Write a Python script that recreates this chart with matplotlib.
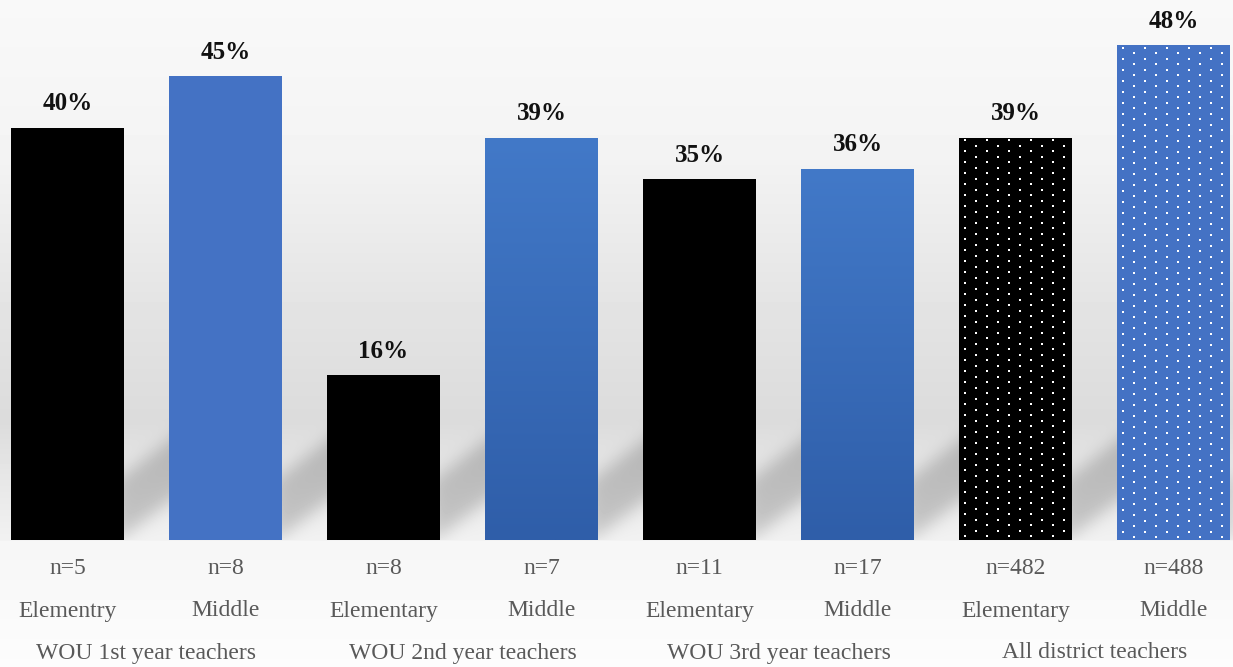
import numpy as np
import matplotlib
matplotlib.use("Agg")
import matplotlib.pyplot as plt
from matplotlib.colors import LinearSegmentedColormap
import matplotlib.transforms as mtransforms

# data
values = [40, 45, 16, 39, 35, 36, 39, 48]
sample_sizes = ["n=5", "n=8", "n=8", "n=7", "n=11", "n=17", "n=482", "n=488"]
levels = ["Elementry", "Middle", "Elementary", "Middle",
          "Elementary", "Middle", "Elementary", "Middle"]
groups = ["WOU 1st year teachers", "WOU 2nd year teachers",
          "WOU 3rd year teachers", "All district teachers"]

W, H, DPI = 1233, 667, 100
BLUE = "#4472C4"
TEXT_GRAY = "#595959"
FONT = ["Liberation Serif", "DejaVu Serif"]

# pixel geometry of the plot area
px_step = 158.0
px_first = 67.5
px_base = 540.0
px_per_pct = 10.31

x = np.arange(len(values))
xlim = (-px_first / px_step, (W - px_first) / px_step)
ytop = px_base / px_per_pct
bar_w = 113.0 / px_step


def smooth(arr, k):
    ker = np.exp(-0.5 * (np.arange(-3 * k, 3 * k + 1) / k) ** 2)
    ker /= ker.sum()
    out = np.apply_along_axis(lambda r: np.convolve(r, ker, mode="same"), 1, arr)
    out = np.apply_along_axis(lambda c: np.convolve(c, ker, mode="same"), 0, out)
    return out


def make_background():
    yy = np.arange(H)
    stops_y = [0, 150, 300, 420, 470, 539, 541, 667]
    stops_v = [0.975, 0.955, 0.895, 0.86, 0.90, 0.945, 0.965, 0.99]
    col = np.interp(yy, stops_y, stops_v)
    img = np.repeat(col[:, None], W, axis=1)

    # soft diagonal shadows behind the bars
    mask = np.zeros((H, W))
    XX, YY = np.meshgrid(np.arange(W), np.arange(H))
    for i in range(len(values)):
        r = px_first + px_step * i + 56.5
        dxp = XX - r
        top = 474 - 0.75 * dxp
        bot = 535 - 0.75 * dxp
        sel = (dxp > -10) & (dxp < 70) & (YY > top) & (YY < bot) & (YY < px_base)
        mask[sel] = 1.0
    mask = smooth(mask, 8)
    mask[int(px_base):, :] = 0
    img = img - 0.17 * mask
    return np.clip(img, 0, 1)


fig = plt.figure(figsize=(W / DPI, H / DPI), dpi=DPI)

bg = fig.add_axes([0, 0, 1, 1], zorder=0)
bg.imshow(make_background(), cmap="gray", vmin=0, vmax=1, aspect="auto",
          extent=[0, 1, 0, 1], interpolation="bilinear")
bg.set_axis_off()

ax = fig.add_axes([0, 1 - px_base / H, 1, px_base / H], zorder=1)
ax.patch.set_alpha(0)

colors = ["black", BLUE] * 4
bars = ax.bar(x, values, width=bar_w, color=colors, edgecolor="none", zorder=2)

# vertical gradient on two of the blue bars
grad_cmap = LinearSegmentedColormap.from_list("bl", ["#2F5EA9", "#4279C8"])
grad = np.linspace(0, 1, 200)[:, None]
for i in [3, 5]:
    b = bars[i]
    im = ax.imshow(grad, cmap=grad_cmap, origin="lower", aspect="auto",
                   extent=[b.get_x(), b.get_x() + b.get_width(), 0, b.get_height()],
                   zorder=3)
    im.set_clip_path(b)

# dotted pattern on the district bars
dx = 11.0 / px_step
dy = 11.0 / px_per_pct
for i in [6, 7]:
    b = bars[i]
    x0, x1 = b.get_x(), b.get_x() + b.get_width()
    cols = np.arange(x0 + 6.0 / px_step, x1, dx)
    dots_x, dots_y = [], []
    for k, cx in enumerate(cols):
        start = (2.5 if k % 2 == 0 else 8.0) / px_per_pct
        ys = np.arange(b.get_height() - start, 0, -dy)
        dots_x.extend([cx] * len(ys))
        dots_y.extend(ys)
    ax.scatter(dots_x, dots_y, marker="s", s=4, color="white",
               linewidths=0, zorder=4)

for xi, v in zip(x, values):
    ax.annotate(f"{v}%", (xi, v), xytext=(0, 9), textcoords="offset points",
                ha="center", va="bottom", fontsize=18, fontweight="bold",
                family=FONT, color="#111111", zorder=5)

ax.set_xlim(*xlim)
ax.set_ylim(0, ytop)
ax.set_axis_off()

trans = mtransforms.blended_transform_factory(ax.transData, fig.transFigure)
for xi, n, lv in zip(x, sample_sizes, levels):
    ax.text(xi, 1 - 569 / H, n, transform=trans, ha="center", va="center",
            fontsize=17, family=FONT, color=TEXT_GRAY)
    ax.text(xi, 1 - 611 / H, lv, transform=trans, ha="center", va="center",
            fontsize=17, family=FONT, color=TEXT_GRAY)
for g, name in enumerate(groups):
    ax.text(2 * g + 0.5, 1 - 653 / H, name, transform=trans, ha="center",
            va="center", fontsize=17, family=FONT, color=TEXT_GRAY)

fig.savefig("out.png", dpi=DPI)
plt.close(fig)
